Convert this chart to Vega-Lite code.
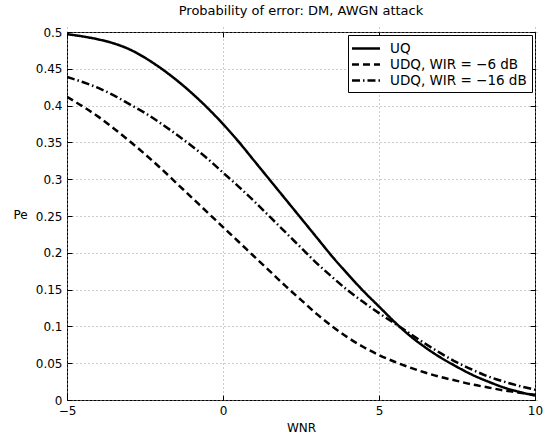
{
  "$schema": "https://vega.github.io/schema/vega-lite/v6.json",
  "width": 468,
  "height": 368,
  "autosize": "none",
  "padding": {"left": 67, "top": 32, "right": 8, "bottom": 36},
  "config": {
    "font": "DejaVu Sans",
    "view": {"stroke": "black", "strokeWidth": 1},
    "axis": {
      "domain": false,
      "tickColor": "black",
      "labelColor": "black",
      "titleColor": "black",
      "labelFontSize": 12,
      "titleFontSize": 12,
      "titleFontWeight": "normal",
      "gridColor": "#999999",
      "gridDash": [1, 3],
      "gridOpacity": 1,
      "ticks": true,
      "tickSize": 5,
      "tickWidth": 1,
      "offset": -5
    }
  },
  "title": {
    "text": "Probability of error: DM, AWGN attack",
    "fontSize": 13,
    "fontWeight": "normal",
    "color": "black",
    "offset": 8
  },
  "datasets": {
    "curves": [
      {"x": -5, "pe": 0.497, "s": "UQ"},
      {"x": -4.5, "pe": 0.494, "s": "UQ"},
      {"x": -4, "pe": 0.49, "s": "UQ"},
      {"x": -3.5, "pe": 0.4845, "s": "UQ"},
      {"x": -3, "pe": 0.4765, "s": "UQ"},
      {"x": -2.5, "pe": 0.465, "s": "UQ"},
      {"x": -2, "pe": 0.451, "s": "UQ"},
      {"x": -1.5, "pe": 0.435, "s": "UQ"},
      {"x": -1, "pe": 0.417, "s": "UQ"},
      {"x": -0.5, "pe": 0.397, "s": "UQ"},
      {"x": 0, "pe": 0.375, "s": "UQ"},
      {"x": 0.5, "pe": 0.351, "s": "UQ"},
      {"x": 1, "pe": 0.325, "s": "UQ"},
      {"x": 1.5, "pe": 0.299, "s": "UQ"},
      {"x": 2, "pe": 0.273, "s": "UQ"},
      {"x": 2.5, "pe": 0.247, "s": "UQ"},
      {"x": 3, "pe": 0.221, "s": "UQ"},
      {"x": 3.5, "pe": 0.195, "s": "UQ"},
      {"x": 4, "pe": 0.171, "s": "UQ"},
      {"x": 4.5, "pe": 0.148, "s": "UQ"},
      {"x": 5, "pe": 0.127, "s": "UQ"},
      {"x": 5.5, "pe": 0.106, "s": "UQ"},
      {"x": 6, "pe": 0.087, "s": "UQ"},
      {"x": 6.5, "pe": 0.071, "s": "UQ"},
      {"x": 7, "pe": 0.057, "s": "UQ"},
      {"x": 7.5, "pe": 0.045, "s": "UQ"},
      {"x": 8, "pe": 0.034, "s": "UQ"},
      {"x": 8.5, "pe": 0.025, "s": "UQ"},
      {"x": 9, "pe": 0.017, "s": "UQ"},
      {"x": 9.5, "pe": 0.011, "s": "UQ"},
      {"x": 10, "pe": 0.006, "s": "UQ"},
      {"x": -5, "pe": 0.412, "s": "UDQ, WIR = −6 dB"},
      {"x": -4.5, "pe": 0.399, "s": "UDQ, WIR = −6 dB"},
      {"x": -4, "pe": 0.385, "s": "UDQ, WIR = −6 dB"},
      {"x": -3.5, "pe": 0.369, "s": "UDQ, WIR = −6 dB"},
      {"x": -3, "pe": 0.352, "s": "UDQ, WIR = −6 dB"},
      {"x": -2.5, "pe": 0.334, "s": "UDQ, WIR = −6 dB"},
      {"x": -2, "pe": 0.315, "s": "UDQ, WIR = −6 dB"},
      {"x": -1.5, "pe": 0.295, "s": "UDQ, WIR = −6 dB"},
      {"x": -1, "pe": 0.275, "s": "UDQ, WIR = −6 dB"},
      {"x": -0.5, "pe": 0.255, "s": "UDQ, WIR = −6 dB"},
      {"x": 0, "pe": 0.235, "s": "UDQ, WIR = −6 dB"},
      {"x": 0.5, "pe": 0.215, "s": "UDQ, WIR = −6 dB"},
      {"x": 1, "pe": 0.195, "s": "UDQ, WIR = −6 dB"},
      {"x": 1.5, "pe": 0.175, "s": "UDQ, WIR = −6 dB"},
      {"x": 2, "pe": 0.155, "s": "UDQ, WIR = −6 dB"},
      {"x": 2.5, "pe": 0.136, "s": "UDQ, WIR = −6 dB"},
      {"x": 3, "pe": 0.117, "s": "UDQ, WIR = −6 dB"},
      {"x": 3.5, "pe": 0.1, "s": "UDQ, WIR = −6 dB"},
      {"x": 4, "pe": 0.085, "s": "UDQ, WIR = −6 dB"},
      {"x": 4.5, "pe": 0.072, "s": "UDQ, WIR = −6 dB"},
      {"x": 5, "pe": 0.061, "s": "UDQ, WIR = −6 dB"},
      {"x": 5.5, "pe": 0.052, "s": "UDQ, WIR = −6 dB"},
      {"x": 6, "pe": 0.044, "s": "UDQ, WIR = −6 dB"},
      {"x": 6.5, "pe": 0.037, "s": "UDQ, WIR = −6 dB"},
      {"x": 7, "pe": 0.031, "s": "UDQ, WIR = −6 dB"},
      {"x": 7.5, "pe": 0.026, "s": "UDQ, WIR = −6 dB"},
      {"x": 8, "pe": 0.021, "s": "UDQ, WIR = −6 dB"},
      {"x": 8.5, "pe": 0.017, "s": "UDQ, WIR = −6 dB"},
      {"x": 9, "pe": 0.013, "s": "UDQ, WIR = −6 dB"},
      {"x": 9.5, "pe": 0.01, "s": "UDQ, WIR = −6 dB"},
      {"x": 10, "pe": 0.007, "s": "UDQ, WIR = −6 dB"},
      {"x": -5, "pe": 0.439, "s": "UDQ, WIR = −16 dB"},
      {"x": -4.5, "pe": 0.432, "s": "UDQ, WIR = −16 dB"},
      {"x": -4, "pe": 0.424, "s": "UDQ, WIR = −16 dB"},
      {"x": -3.5, "pe": 0.414, "s": "UDQ, WIR = −16 dB"},
      {"x": -3, "pe": 0.402, "s": "UDQ, WIR = −16 dB"},
      {"x": -2.5, "pe": 0.39, "s": "UDQ, WIR = −16 dB"},
      {"x": -2, "pe": 0.376, "s": "UDQ, WIR = −16 dB"},
      {"x": -1.5, "pe": 0.361, "s": "UDQ, WIR = −16 dB"},
      {"x": -1, "pe": 0.345, "s": "UDQ, WIR = −16 dB"},
      {"x": -0.5, "pe": 0.328, "s": "UDQ, WIR = −16 dB"},
      {"x": 0, "pe": 0.309, "s": "UDQ, WIR = −16 dB"},
      {"x": 0.5, "pe": 0.29, "s": "UDQ, WIR = −16 dB"},
      {"x": 1, "pe": 0.27, "s": "UDQ, WIR = −16 dB"},
      {"x": 1.5, "pe": 0.249, "s": "UDQ, WIR = −16 dB"},
      {"x": 2, "pe": 0.228, "s": "UDQ, WIR = −16 dB"},
      {"x": 2.5, "pe": 0.207, "s": "UDQ, WIR = −16 dB"},
      {"x": 3, "pe": 0.186, "s": "UDQ, WIR = −16 dB"},
      {"x": 3.5, "pe": 0.167, "s": "UDQ, WIR = −16 dB"},
      {"x": 4, "pe": 0.149, "s": "UDQ, WIR = −16 dB"},
      {"x": 4.5, "pe": 0.133, "s": "UDQ, WIR = −16 dB"},
      {"x": 5, "pe": 0.118, "s": "UDQ, WIR = −16 dB"},
      {"x": 5.5, "pe": 0.104, "s": "UDQ, WIR = −16 dB"},
      {"x": 6, "pe": 0.09, "s": "UDQ, WIR = −16 dB"},
      {"x": 6.5, "pe": 0.076, "s": "UDQ, WIR = −16 dB"},
      {"x": 7, "pe": 0.063, "s": "UDQ, WIR = −16 dB"},
      {"x": 7.5, "pe": 0.051, "s": "UDQ, WIR = −16 dB"},
      {"x": 8, "pe": 0.041, "s": "UDQ, WIR = −16 dB"},
      {"x": 8.5, "pe": 0.032, "s": "UDQ, WIR = −16 dB"},
      {"x": 9, "pe": 0.025, "s": "UDQ, WIR = −16 dB"},
      {"x": 9.5, "pe": 0.019, "s": "UDQ, WIR = −16 dB"},
      {"x": 10, "pe": 0.014, "s": "UDQ, WIR = −16 dB"}
    ]
  },
  "data": {"name": "curves"},
  "layer": [
    {
      "mark": {"type": "line", "strokeWidth": 2.5, "color": "black", "interpolate": "monotone", "clip": true},
      "encoding": {
        "x": {
          "field": "x",
          "type": "quantitative",
          "scale": {"domain": [-5, 10], "nice": false, "zero": false},
          "axis": {
            "values": [-5, 0, 5, 10],
            "format": "d",
            "grid": true,
            "labelPadding": 5,
            "title": "WNR",
            "titlePadding": 6,
            "labelFlush": false
          }
        },
        "y": {
          "field": "pe",
          "type": "quantitative",
          "scale": {"domain": [0, 0.5], "nice": false},
          "axis": {
            "values": [0, 0.05, 0.1, 0.15, 0.2, 0.25, 0.3, 0.35, 0.4, 0.45, 0.5],
            "format": ".2~f",
            "grid": true,
            "labelPadding": 5,
            "title": "Pe",
            "titleAngle": 0,
            "titleAlign": "left",
            "titleBaseline": "middle",
            "titleX": -59,
            "titleY": 182,
            "labelFlush": false
          }
        },
        "strokeDash": {
          "field": "s",
          "type": "nominal",
          "scale": {
            "domain": ["UQ", "UDQ, WIR = −6 dB", "UDQ, WIR = −16 dB"],
            "range": [[1, 0], [7, 4], [8, 3, 1.5, 3]]
          },
          "legend": {
            "title": null,
            "orient": "top-right",
            "offset": 3,
            "padding": 5,
            "fillColor": "white",
            "strokeColor": "black",
            "cornerRadius": 0,
            "symbolType": "M-1.36,0H2.64",
            "symbolSize": 196,
            "symbolStrokeWidth": 2.5,
            "symbolStrokeColor": "black",
            "labelFontSize": 13.5,
            "labelColor": "black",
            "labelOffset": 20,
            "rowPadding": 1,
            "labelLimit": 300
          }
        }
      }
    },
    {
      "mark": {"type": "line", "strokeWidth": 0, "opacity": 0},
      "encoding": {
        "x": {
          "field": "x",
          "type": "quantitative",
          "axis": {"orient": "top", "values": [-5, 0, 5, 10], "labels": false, "title": null, "grid": false}
        },
        "y": {
          "field": "pe",
          "type": "quantitative",
          "axis": {"orient": "right", "values": [0, 0.05, 0.1, 0.15, 0.2, 0.25, 0.3, 0.35, 0.4, 0.45, 0.5], "labels": false, "title": null, "grid": false}
        },
        "detail": {"field": "s"}
      }
    }
  ],
  "resolve": {"axis": {"x": "independent", "y": "independent"}}
}
